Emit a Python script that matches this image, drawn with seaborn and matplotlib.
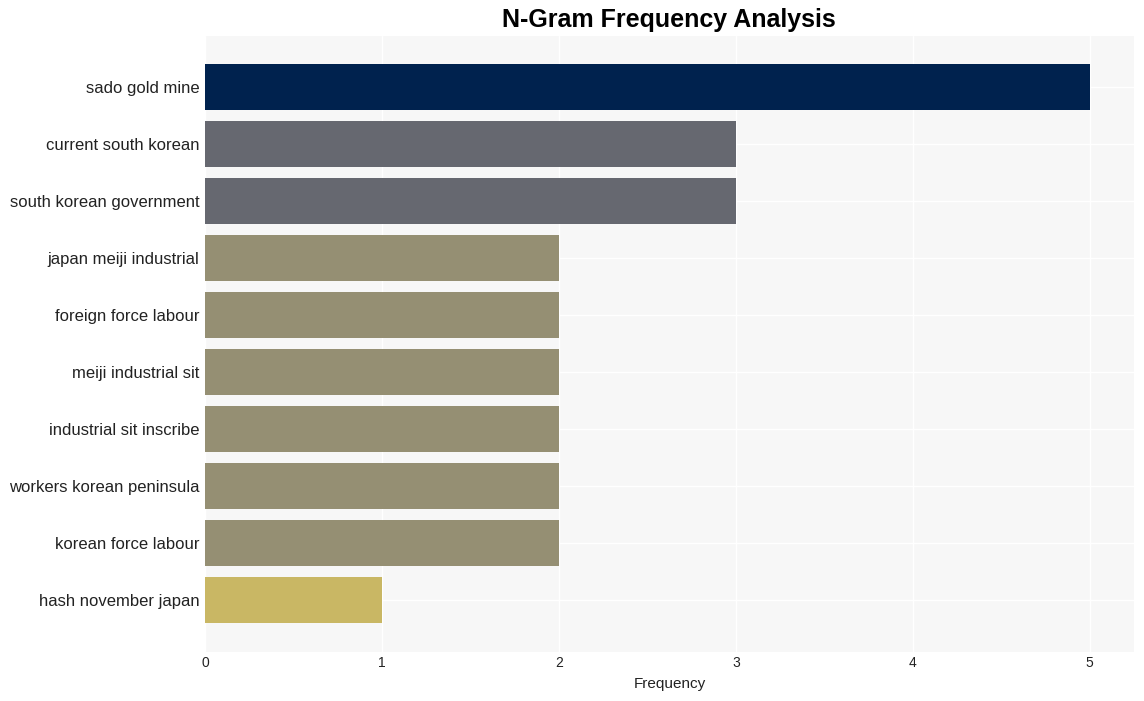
import pandas as pd
import seaborn as sns
import matplotlib.pyplot as plt

# Data
ngrams = [
    'sado gold mine',
    'current south korean',
    'south korean government',
    'japan meiji industrial',
    'foreign force labour',
    'meiji industrial sit',
    'industrial sit inscribe',
    'workers korean peninsula',
    'korean force labour',
    'hash november japan',
]
counts = [5, 3, 3, 2, 2, 2, 2, 2, 2, 1]

# colour per frequency value
value_colors = {5: '#00224e', 3: '#666870', 2: '#958f73', 1: '#c9b764'}

df = pd.DataFrame({'ngram': ngrams, 'count': counts})
df['key'] = df['count'].astype(str)
palette = {str(k): v for k, v in value_colors.items()}

sns.set_style('whitegrid', {'axes.facecolor': '#f7f7f7', 'grid.color': 'white'})
plt.rcParams['font.family'] = ['Liberation Sans', 'DejaVu Sans']

fig = plt.figure(figsize=(11.44, 7.01), dpi=100)
ax = fig.add_axes([205 / 1144, 1 - 652 / 701, (1134 - 205) / 1144, (652 - 36) / 701])
sns.barplot(data=df, y='ngram', x='count', hue='key', palette=palette,
            dodge=False, legend=False, width=0.8, saturation=1, linewidth=0, ax=ax)

ax.set_xlim(0, 5.25)
ax.set_ylim(9.91, -0.89)
ax.set_xticks([0, 1, 2, 3, 4, 5])
ax.set_xlabel('Frequency', fontsize=11, color='#222222', labelpad=5)
ax.set_ylabel('')
ax.tick_params(axis='both', length=0, labelcolor='#222222')
ax.tick_params(axis='y', labelsize=12, pad=4)
ax.tick_params(axis='x', labelsize=10, pad=3)
for s in ax.spines.values():
    s.set_visible(False)
ax.grid(True, color='white', linewidth=1)
ax.set_axisbelow(True)

fig.text(0.585, 0.972, 'N-Gram Frequency Analysis', ha='center', va='center',
         fontsize=18, fontweight='bold', color='black')

plt.savefig('out.png', dpi=100)
